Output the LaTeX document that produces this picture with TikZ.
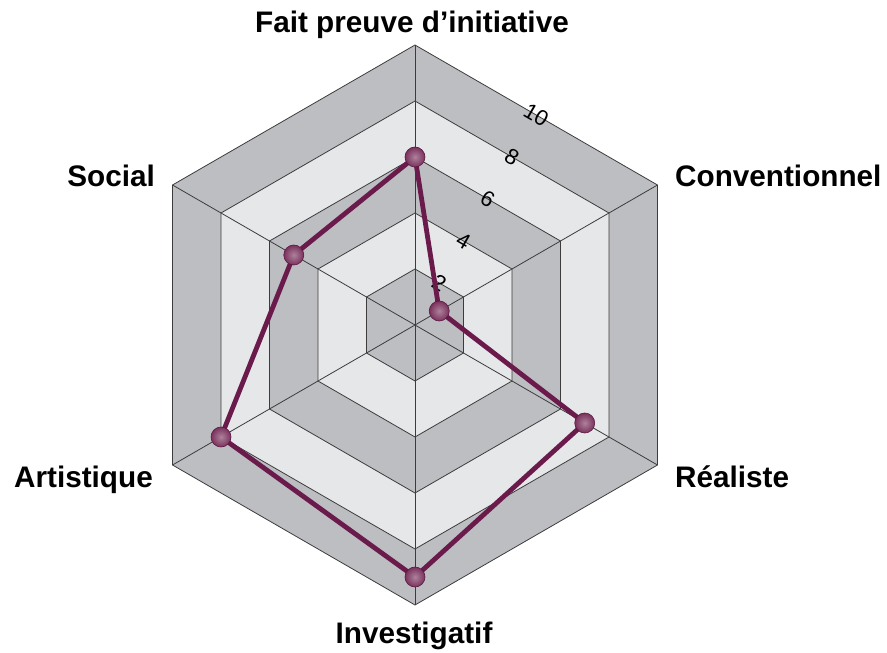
\documentclass[tikz,border=0pt]{standalone}
\usepackage{fontspec}
\setmainfont{Liberation Sans}
\usepackage{tikz}
\usetikzlibrary{calc}

\definecolor{bandDark}{HTML}{BDBEC1}
\definecolor{bandLight}{HTML}{E6E7E9}
\definecolor{gridLine}{HTML}{3C3C3C}
\definecolor{plum}{HTML}{6B1B4B}

\tikzset{
  gridline/.style={draw=gridLine, line width=0.8pt},
  axislabel/.style={font=\fontsize{29.7}{33}\selectfont\bfseries, inner sep=0pt},
  ticklabel/.style={font=\fontsize{22}{25}\selectfont, rotate=-30, inner sep=0pt},
  datapoint/.style={circle, minimum size=20pt, inner sep=0pt, draw=plum!85!black, line width=0.6pt,
    shading=radial, inner color=plum!55!white, outer color=plum!90!white},
  dataline/.style={draw=plum, line width=4.8pt, line join=round}
}

\begin{document}
\begin{tikzpicture}[x=1pt, y=1pt]
    \useasboundingbox (-415,-328) rectangle (472,325);
    \coordinate (O) at (0,0);
    % bands, from outside in
    \foreach \v/\c in {10/bandDark, 8/bandLight, 6/bandDark, 4/bandLight, 2/bandDark}
        \filldraw[fill=\c, gridline] (90:{28*\v}) \foreach \a in {30,-30,-90,-150,150}{ -- (\a:{28*\v})} -- cycle;
    % spokes
    \foreach \a in {90,30,-30,-90,-150,150}
        \draw[gridline] (O) -- (\a:280);
    % scale
    \foreach \v in {2,4,...,10}
        \node[ticklabel] (t\v) at (60:{24.25*\v}) {\v};
    % axis names
    \node[axislabel, anchor=base] (lInit) at (-3,292) {Fait preuve d’initiative};
    \node[axislabel, anchor=base west] (lConv) at (260,138) {Conventionnel};
    \node[axislabel, anchor=base west] (lReal) at (260,-162) {Réaliste};
    \node[axislabel, anchor=base] (lInv) at (-1,-318) {Investigatif};
    \node[axislabel, anchor=base east] (lArt) at (-262,-162) {Artistique};
    \node[axislabel, anchor=base east] (lSoc) at (-260,138) {Social};
    % values
    \coordinate (cInit) at (90:168);
    \coordinate (cConv) at (30:28);
    \coordinate (cReal) at (-30:196);
    \coordinate (cInv) at (-90:252);
    \coordinate (cArt) at (-150:224);
    \coordinate (cSoc) at (150:140);
    \draw[dataline] (cInit) -- (cConv) -- (cReal) -- (cInv) -- (cArt) -- (cSoc) -- cycle;
    \foreach \n in {Init,Conv,Real,Inv,Art,Soc}
        \node[datapoint] (d\n) at (c\n) {};
\end{tikzpicture}
\end{document}
